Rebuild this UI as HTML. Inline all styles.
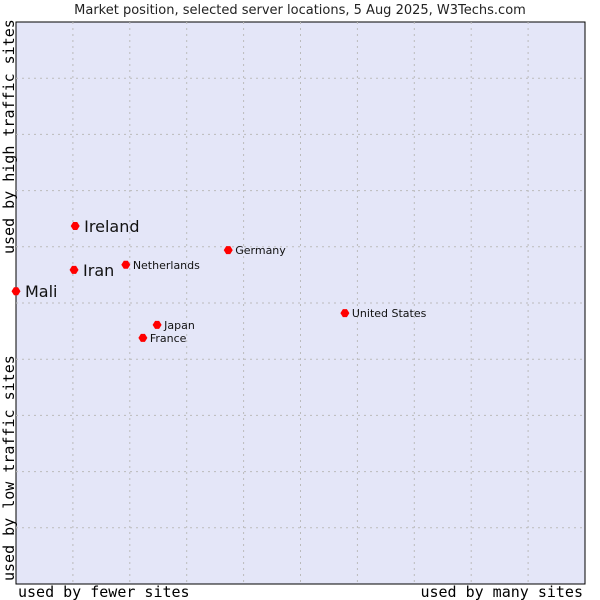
<!DOCTYPE html>
<html><head><meta charset="utf-8"><style>
body{margin:0;background:#fff;width:600px;height:600px;overflow:hidden}
svg{display:block}
</style></head><body>
<svg id="chart" width="600" height="600">
<text x="300" y="14" text-anchor="middle" font-family="DejaVu Sans, sans-serif" font-size="13" fill="#222">Market position, selected server locations, 5 Aug 2025, W3Techs.com</text>
<rect x="16" y="22" width="569" height="562" fill="#e4e6f8" stroke="#000" stroke-width="1"/>
<g id="grid"></g>
<g id="points"></g>
<text transform="translate(14,254) rotate(-90)" font-family="DejaVu Sans Mono, Liberation Mono, monospace" font-size="15" fill="#000">used by high traffic sites</text>
<text transform="translate(14,581) rotate(-90)" font-family="DejaVu Sans Mono, Liberation Mono, monospace" font-size="15" fill="#000">used by low traffic sites</text>
<text x="18" y="597" font-family="DejaVu Sans Mono, Liberation Mono, monospace" font-size="15" fill="#000">used by fewer sites</text>
<text x="583" y="597" text-anchor="end" font-family="DejaVu Sans Mono, Liberation Mono, monospace" font-size="15" fill="#000">used by many sites</text>
</svg>
<script>
const names=["Mali","Ireland","Iran","Netherlands","Germany","United States","Japan","France"];
const xVals=[0,1.04,1.02,1.93,3.73,5.78,2.48,2.23];
const yVals=[5.21,6.37,5.59,5.68,5.94,4.82,4.61,4.38];
const bigLabel=[true,true,true,false,false,false,false,false];
const NS="http://www.w3.org/2000/svg";
const X0=16,X1=585,Y0=584,Y1=22;
const sx=v=>X0+(X1-X0)*v/10, sy=v=>Y0-(Y0-Y1)*v/10;
const grid=document.getElementById('grid');
for(let i=1;i<10;i++){
  const v=document.createElementNS(NS,'line');
  v.setAttribute('x1',sx(i));v.setAttribute('x2',sx(i));v.setAttribute('y1',Y1);v.setAttribute('y2',Y0);
  v.setAttribute('stroke','#bbb');v.setAttribute('stroke-dasharray','2,4');
  
  
  grid.appendChild(v);
  const h=document.createElementNS(NS,'line');
  h.setAttribute('y1',sy(i));h.setAttribute('y2',sy(i));h.setAttribute('x1',X0);h.setAttribute('x2',X1);
  h.setAttribute('stroke','#bbb');h.setAttribute('stroke-dasharray','2,4');
  
  
  grid.appendChild(h);
}
const pts=document.getElementById('points');
names.forEach((n,i)=>{
  const x=sx(xVals[i]),y=sy(yVals[i]);
  const d=document.createElementNS(NS,'path');
  d.setAttribute('d',`M${x-4.5},${y} L${x-2},${y-4} L${x+2},${y-4} L${x+4.5},${y} L${x+2},${y+4} L${x-2},${y+4}Z`);
  d.setAttribute('fill','#f00');
  
  
  pts.appendChild(d);
  const t=document.createElementNS(NS,'text');
  t.setAttribute('x',x+(bigLabel[i]?9:7));
  t.setAttribute('y',y+(bigLabel[i]?6:4));
  t.setAttribute('font-family','DejaVu Sans, sans-serif');
  t.setAttribute('font-size',bigLabel[i]?16:11);
  t.setAttribute('fill','#111');
  t.textContent=n;
  
  
  pts.appendChild(t);
});
</script>
</body></html>
